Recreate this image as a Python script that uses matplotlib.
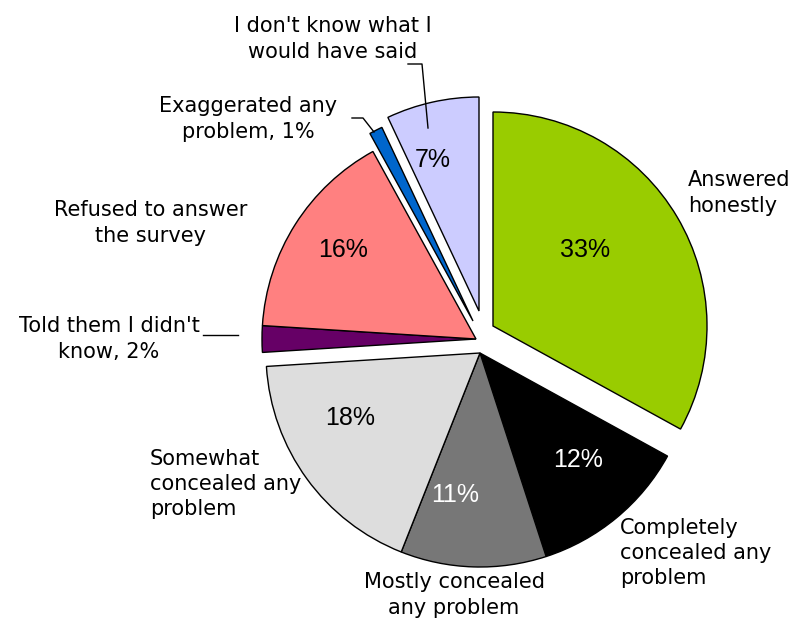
import matplotlib
matplotlib.use("Agg")
import matplotlib.pyplot as plt

# data
labels = ["Answered\nhonestly", "Completely\nconcealed any\nproblem", "Mostly concealed\nany problem",
          "Somewhat\nconcealed any\nproblem", "Told them I didn't\nknow, 2%", "Refused to answer\nthe survey",
          "Exaggerated any\nproblem, 1%", "I don't know what I\nwould have said"]
values = [33, 12, 11, 18, 2, 16, 1, 7]
show_pct = [True, True, True, True, False, True, False, True]

colors = ["#99CC00", "#000000", "#777777", "#DDDDDD", "#660066", "#FF8080", "#0066CC", "#CCCCFF"]
pct_colors = ["black", "white", "white", "black", "black", "black", "black", "black"]

# pie geometry in pixels (reference image is 792x622)
W, H = 792, 622
CX, CY, R = 480, 353, 214


def px(x, y):
    # pixel position -> data coords (pie radius = 1)
    return (x - CX) / R, (CY - y) / R


# slice offsets (pixels), dragged slices in the original
offsets = [(13, -27), (0, 0), (0, 0), (0, 0), (-4, -14), (-4, -14), (-7, -32), (-1, -42)]

pct_pos = [(585, 250), (578, 460), (455, 495), (350, 418), None, (343, 250), None, (433, 160)]
label_pos = [(688, 193, "left"), (620, 553, "left"), (454, 595, "center"), (150, 484, "left"),
             (109, 339, "center"), (151, 223, "center"), (248, 119, "center"), (333, 39, "center")]

fig = plt.figure(figsize=(W / 100, H / 100), dpi=100)
ax = fig.add_axes([0, 0, 1, 1])

wedges, _ = ax.pie(values, colors=colors, startangle=90, counterclock=False, radius=1,
                   wedgeprops=dict(edgecolor="black", linewidth=1.0))
for w, (dx, dy) in zip(wedges, offsets):
    w.set_center((dx / R, -dy / R))

ax.set_aspect("auto")
ax.set_xlim(px(0, 0)[0], px(W, 0)[0])
ax.set_ylim(px(0, H)[1], px(0, 0)[1])
ax.axis("off")

for v, p, c, s in zip(values, pct_pos, pct_colors, show_pct):
    if s:
        ax.text(*px(*p), f"{v}%", ha="center", va="center", fontsize=18,
                family="Liberation Sans", color=c)

for lab, (x, y, ha) in zip(labels, label_pos):
    ax.text(*px(x, y), lab, ha=ha, va="center", fontsize=15, family="DejaVu Sans",
            linespacing=1.32, multialignment=ha)

# leader lines
leaders = [
    [(408, 64), (422, 64), (428, 128)],
    [(352, 118), (363, 118), (374, 132)],
    [(203, 335), (238, 335)],
]
for pts in leaders:
    xs, ys = zip(*[px(*p) for p in pts])
    ax.plot(xs, ys, color="black", linewidth=1)

fig.savefig("out.png", dpi=100)
